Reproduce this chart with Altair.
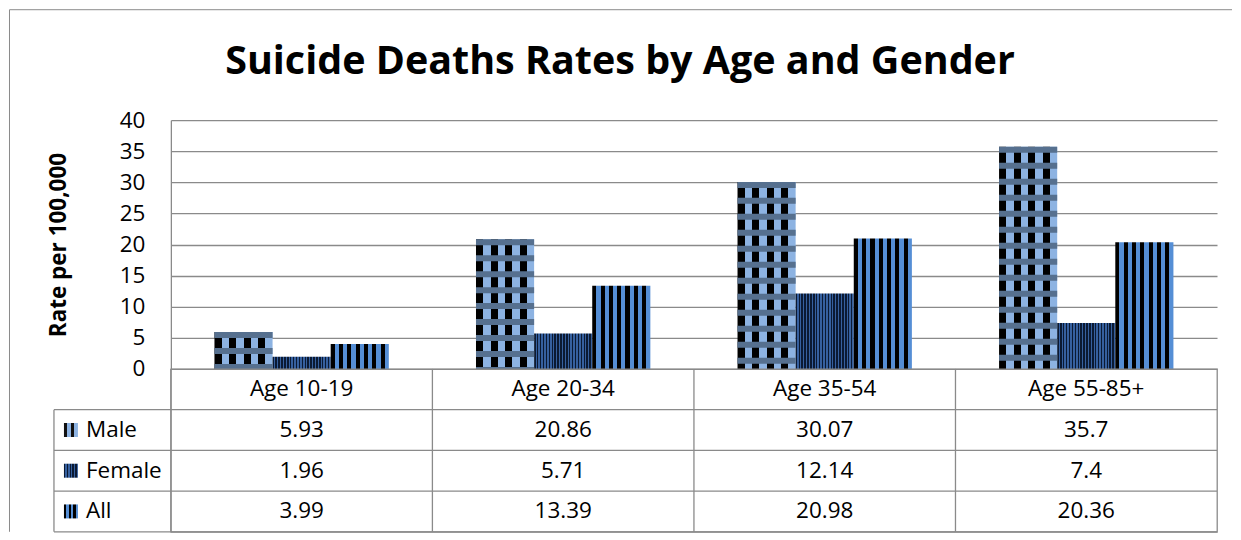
import altair as alt
import pandas as pd

# ---- data ----
ages = ["Age 10-19", "Age 20-34", "Age 35-54", "Age 55-85+"]
series = ["Male", "Female", "All"]
male = [5.93, 20.86, 30.07, 35.7]
female = [1.96, 5.71, 12.14, 7.4]
all_ages = [3.99, 13.39, 20.98, 20.36]
y_ticks = [0, 5, 10, 15, 20, 25, 30, 35, 40]
title_text = "Suicide Deaths Rates by Age and Gender"
y_title = "Rate per 100,000"

# ---- layout / style ----
W = 1047          # plot width
H = 249           # plot height
TH = 163          # data table height
LABEL_COL = 117   # width of the table's label column
BAR_W = W / len(ages) / (len(series) + 1.5)
GRID = "#8a8a8a"
FONT = "Open Sans"
FS = 22.5

rows = []
for s, vals in zip(series, [male, female, all_ages]):
    for a, v in zip(ages, vals):
        rows.append({"age": a, "series": s, "value": v})
df = pd.DataFrame(rows)

trows = [{"age": a, "row": "hdr", "text": a} for a in ages]
for s, vals in zip(series, [male, female, all_ages]):
    for a, v in zip(ages, vals):
        trows.append({"age": a, "row": s, "text": str(v)})
tdf = pd.DataFrame(trows)
row_domain = ["hdr"] + series


def stripes(c1, c2, n):
    stops = []
    for i in range(n):
        a, m, b = i / n, (i + 0.5) / n, (i + 1) / n
        stops += [alt.GradientStop(color=c1, offset=a), alt.GradientStop(color=c1, offset=m),
                  alt.GradientStop(color=c2, offset=m), alt.GradientStop(color=c2, offset=b)]
    return alt.LinearGradient(gradient="linear", stops=stops, x1=0, x2=1, y1=0, y2=0)


fills = {
    "Male": stripes("#000000", "#8DB3E2", 4),
    "Female": stripes("#0b1a33", "#36609f", 20),
    "All": stripes("#000000", "#558ED5", 7),
}
swatch_fills = {
    "Male": stripes("#111111", "#8DB3E2", 2),
    "Female": stripes("#0b1a33", "#36609f", 5),
    "All": stripes("#000000", "#558ED5", 3),
}

x_enc = alt.X("age:N", sort=ages,
              scale=alt.Scale(domain=ages, paddingInner=0, paddingOuter=0), axis=None)
xo_enc = alt.XOffset("series:N",
                     scale=alt.Scale(domain=series, paddingInner=0, paddingOuter=0.75))
y_enc = alt.Y("value:Q", title=y_title,
              scale=alt.Scale(domain=[0, 40], nice=False, zero=True),
              axis=alt.Axis(values=y_ticks, grid=True, gridColor=GRID, gridWidth=1.3,
                            ticks=False, domain=True, domainColor=GRID, domainWidth=1.3,
                            labelFont=FONT, labelFontSize=FS, labelColor="black",
                            labelPadding=26,
                            titleFont=FONT, titleFontSize=22.5, titleFontWeight="bold",
                            titleColor="black", titleAngle=270, titleX=-105, titleY=H / 2,
                            titleAlign="center", titleBaseline="alphabetic"))

base = alt.Chart(df).encode(x=x_enc, xOffset=xo_enc, y=y_enc)

bar_layers = []
for s in series:
    bar_layers.append(base.transform_filter(alt.datum.series == s).mark_bar(fill=fills[s]))

# small-checker bands of the Male pattern
male_bands = base.transform_filter(alt.datum.series == "Male").mark_rule(
    strokeWidth=BAR_W, strokeDash=[6, 10], strokeCap="butt", color="#56708f"
).encode(y2=alt.datum(0))

one = pd.DataFrame({"t": [title_text]})
title_mark = alt.Chart(one).mark_text(
    font=FONT, fontSize=39.5, fontWeight="bold", align="center", baseline="alphabetic",
    color="black"
).encode(text="t:N", x=alt.value(W / 2 - 74), y=alt.value(-46))

frame_top = alt.Chart(one).mark_rule(color=GRID, strokeWidth=1, strokeCap="butt").encode(
    x=alt.value(-161.5), x2=alt.value(1062), y=alt.value(-110.5), y2=alt.value(-110.5))
frame_left = alt.Chart(one).mark_rule(color=GRID, strokeWidth=1, strokeCap="butt").encode(
    x=alt.value(-161.5), x2=alt.value(-161.5), y=alt.value(-110.5), y2=alt.value(H + TH))

bar_chart = alt.layer(frame_top, frame_left, *bar_layers, male_bands, title_mark).properties(
    width=W, height=H, view=alt.ViewBackground(stroke="transparent"))

# ---- data table ----
tx = alt.X("age:N", sort=ages,
           scale=alt.Scale(domain=ages, paddingInner=0, paddingOuter=0), axis=None)
ty_scale = alt.Scale(domain=row_domain, paddingInner=0, paddingOuter=0)

cells = alt.Chart(tdf).mark_text(font=FONT, fontSize=FS, color="black").encode(
    x=tx, y=alt.Y("row:N", scale=ty_scale, axis=None), text="text:N")

sdf = pd.DataFrame({"row": series})
row_labels = alt.Chart(sdf).mark_text(font=FONT, fontSize=FS, color="black", align="left").encode(
    x=alt.value(-LABEL_COL + 32), y=alt.Y("row:N", scale=ty_scale, axis=None), text="row:N")

swatches = []
for s in series:
    swatches.append(alt.Chart(sdf).transform_filter(alt.datum.row == s).mark_square(
        size=196, fill=swatch_fills[s], opacity=1, strokeWidth=0
    ).encode(x=alt.value(-LABEL_COL + 17), y=alt.Y("row:N", scale=ty_scale, axis=None)))

h_lines = alt.Chart(sdf).mark_rule(color=GRID, strokeWidth=1.3).encode(
    y=alt.Y("row:N", scale=ty_scale, axis=None, bandPosition=0),
    x=alt.value(-LABEL_COL), x2=alt.value(W))
bottom_line = alt.Chart(sdf).transform_filter(alt.datum.row == "All").mark_rule(
    color=GRID, strokeWidth=1.3).encode(
    y=alt.Y("row:N", scale=ty_scale, axis=None, bandPosition=1),
    x=alt.value(-LABEL_COL), x2=alt.value(W))
adf = pd.DataFrame({"age": ages})
v_lines = alt.Chart(adf).mark_rule(color=GRID, strokeWidth=1.3).encode(
    x=alt.X("age:N", sort=ages, scale=alt.Scale(domain=ages, paddingInner=0, paddingOuter=0),
            axis=None, bandPosition=0),
    y=alt.value(0), y2=alt.value(TH))
left_line = alt.Chart(sdf).transform_filter(alt.datum.row == "Male").mark_rule(
    color=GRID, strokeWidth=1.3).encode(
    x=alt.value(-LABEL_COL),
    y=alt.Y("row:N", scale=ty_scale, axis=None, bandPosition=0), y2=alt.value(TH))

table = alt.layer(h_lines, bottom_line, v_lines, left_line, cells, row_labels, *swatches).properties(
    width=W, height=TH, view=alt.ViewBackground(stroke=GRID, strokeWidth=1.3))

chart = alt.vconcat(bar_chart, table, spacing=0, bounds="flush").properties(
    padding=0, background="white"
).configure_view(stroke="transparent")

chart.save("out.html", embed_options={"renderer": "svg", "actions": False})
